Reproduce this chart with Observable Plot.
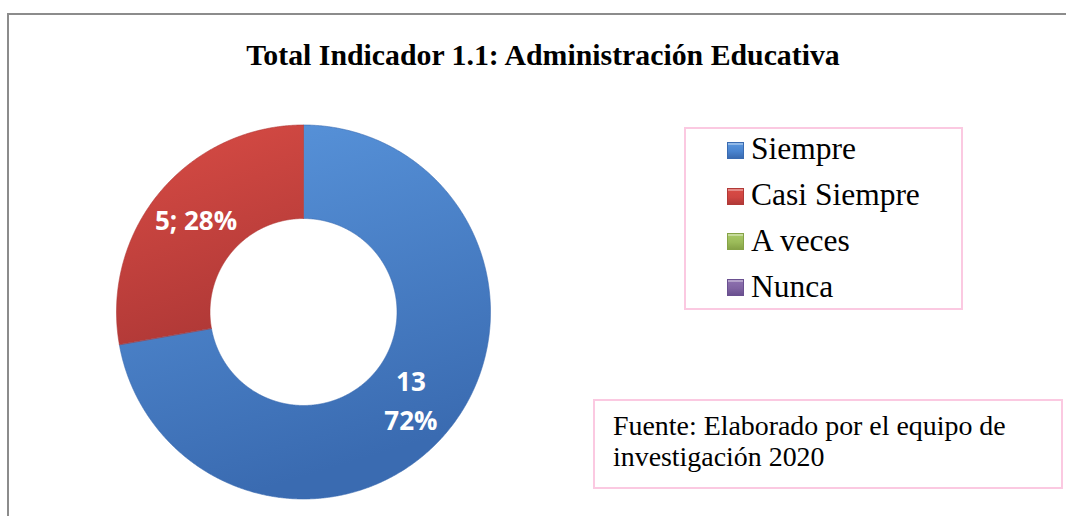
<!DOCTYPE html>
<html><head><meta charset="utf-8">
<script src="https://cdn.jsdelivr.net/npm/d3@7"></script>
<script src="https://cdn.jsdelivr.net/npm/@observablehq/plot@0.6"></script>
<style>
body{margin:0;background:#fff;}
#wrap{position:relative;width:1066px;height:516px;overflow:hidden;background:#fff;}
#chart{position:absolute;left:0;top:0;}
#frame{position:absolute;left:7px;top:13px;width:1200px;height:700px;border-left:2px solid #8c8c8c;border-top:2px solid #8c8c8c;pointer-events:none;z-index:5;}
#title{position:absolute;left:0;top:38px;width:1086px;text-align:center;font:bold 29.8px/34px "Liberation Serif";color:#000;white-space:nowrap;}
#legend{position:absolute;left:684px;top:127px;width:275px;height:179px;border:2px solid #fbc9e1;}
.sq{position:absolute;width:17px;height:17px;box-sizing:border-box;}
.lt{position:absolute;font:31.5px/36px "Liberation Serif";color:#000;white-space:nowrap;}
#source{position:absolute;left:593px;top:399px;width:466px;height:86px;border:2px solid #fbc9e1;}
#srctext{position:absolute;left:613px;top:410px;font:27.9px/31px "Liberation Serif";color:#000;white-space:nowrap;}
</style>
</head><body>
<div id="wrap">
  <div id="chart"></div>
  <div id="frame"></div>
  <div id="title"></div>
  <div id="legend"></div>
  <div id="source"></div>
  <div id="srctext"></div>
</div>
<script>
// ---- data ----
const titleText = "Total Indicador 1.1: Administración Educativa";
const categories = ["Siempre", "Casi Siempre", "A veces", "Nunca"];
const values = [13, 5, 0, 0];
const colors = ["#4a84cf", "#cf4541", "#9bbb59", "#8064a2"];
const gradTop = ["#5a96dd", "#d94c45", "#a9c968", "#8e72b0"];
const gradBottom = ["#3a6bb1", "#b13937", "#86a347", "#6a5090"];
const labelSeparators = ["\n", "; ", "; ", "; "];
const sourceLines = ["Fuente: Elaborado por el equipo de", "investigación 2020"];

// ---- layout ----
const W = 1066, H = 516;
const cx = 303, cy = 311.5, R = 187;
const innerRatio = 0.5;

const total = d3.sum(values);
const pie = d3.pie().sort(null).value(d => d)(values);

function ringPoints(a, i) {
  const pts = [];
  const n = Math.max(2, Math.ceil((a.endAngle - a.startAngle) / 0.005));
  for (let k = 0; k <= n; k++) {
    const t = a.startAngle + (a.endAngle - a.startAngle) * k / n;
    pts.push({x: Math.sin(t), y: Math.cos(t), cat: categories[i]});
  }
  for (let k = n; k >= 0; k--) {
    const t = a.startAngle + (a.endAngle - a.startAngle) * k / n;
    pts.push({x: innerRatio * Math.sin(t), y: innerRatio * Math.cos(t), cat: categories[i]});
  }
  return pts;
}

const sliceMarks = [];
pie.forEach((a, i) => {
  if (values[i] <= 0) return;
  sliceMarks.push(Plot.line(ringPoints(a, i), {
    x: "x", y: "y", curve: "linear-closed",
    fill: `url(#grad${i})`, stroke: gradBottom[i], strokeWidth: 1, strokeOpacity: 0.6
  }));
});

const midR = (1 + innerRatio) / 2;
const labels = pie.filter((a, i) => values[i] > 0).map(a => {
  const i = a.index;
  const m = (a.startAngle + a.endAngle) / 2;
  const pct = Math.round(values[i] / total * 100);
  return {x: midR * Math.sin(m), y: midR * Math.cos(m), text: `${values[i]}${labelSeparators[i]}${pct}%`};
});

const plot = Plot.plot({
  width: W, height: H,
  marginTop: 0, marginRight: 0, marginBottom: 0, marginLeft: 0,
  style: {background: "transparent"},
  x: {domain: [-1, 1], range: [cx - R, cx + R], axis: null},
  y: {domain: [-1, 1], range: [cy + R, cy - R], axis: null},
  marks: [
    ...sliceMarks,
    Plot.text(labels, {x: "x", y: "y", text: "text", fill: "white", dy: -4,
      fontSize: 26, fontWeight: "bold", fontFamily: "Open Sans", lineHeight: 1.5})
  ]
});

// gradients
const svg = d3.select(plot);
const defs = svg.insert("defs", ":first-child");
categories.forEach((c, i) => {
  const g = defs.append("linearGradient").attr("id", `grad${i}`)
    .attr("x1", 0).attr("y1", 0).attr("x2", 0.3).attr("y2", 1);
  g.append("stop").attr("offset", "0%").attr("stop-color", gradTop[i]);
  g.append("stop").attr("offset", "100%").attr("stop-color", gradBottom[i]);
});
document.getElementById("chart").appendChild(plot);

// title
document.getElementById("title").textContent = titleText;

// legend
const wrap = document.getElementById("wrap");
const baselines0 = 160, rowStep = 45.7;
categories.forEach((c, i) => {
  const base = baselines0 + rowStep * i;
  const sq = document.createElement("div");
  sq.className = "sq";
  sq.style.left = "727px";
  sq.style.top = (base - 18) + "px";
  sq.style.background = `linear-gradient(180deg, ${gradTop[i]} 0%, ${colors[i]} 55%, ${gradBottom[i]} 100%)`;
  sq.style.border = `1px solid ${gradBottom[i]}`;
  sq.style.boxShadow = "inset 0 2px 0 rgba(255,255,255,0.35)";
  wrap.appendChild(sq);
  const t = document.createElement("div");
  t.className = "lt";
  t.style.left = "751px";
  t.style.top = (base - 28.6) + "px";
  t.textContent = c;
  wrap.appendChild(t);
});

// source
document.getElementById("srctext").innerHTML = sourceLines.join("<br>");
</script>
</body></html>
